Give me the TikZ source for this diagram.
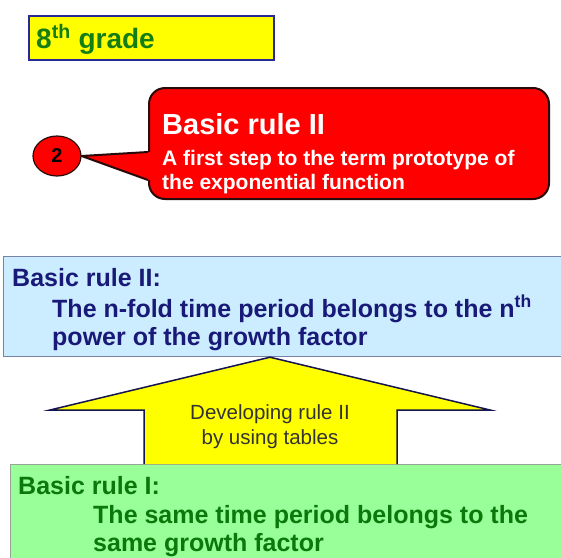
\documentclass[tikz,border=0pt]{standalone}
\usepackage{fontspec}
\setmainfont{Liberation Sans}
\usetikzlibrary{shapes.geometric, positioning}

\definecolor{gradeyellow}{RGB}{255,255,0}
\definecolor{gradeblue}{RGB}{40,40,150}
\definecolor{gradegreen}{RGB}{20,125,20}
\definecolor{calloutred}{RGB}{255,0,0}
\definecolor{calloutrim}{RGB}{40,10,10}
\definecolor{ruleblue}{RGB}{204,236,255}
\definecolor{ruleblueline}{RGB}{120,130,165}
\definecolor{ruleblueink}{RGB}{25,25,120}
\definecolor{rulegreen}{RGB}{153,255,153}
\definecolor{rulegreenline}{RGB}{150,165,150}
\definecolor{rulegreenink}{RGB}{10,120,10}
\definecolor{arrowline}{RGB}{20,20,80}

\begin{document}
\begin{tikzpicture}[
            x=1pt, y=-1pt,
            gradebox/.style={rectangle, draw=gradeblue, line width=2pt, fill=gradeyellow,
            anchor=north west, inner sep=0pt},
            gradetxt/.style={anchor=base west, inner sep=0pt, text=gradegreen,
            font=\fontsize{28}{32}\selectfont\bfseries},
            numnode/.style={ellipse, draw=calloutrim, line width=1.2pt, fill=calloutred,
            minimum width=48pt, minimum height=40pt, inner sep=0pt,
            font=\fontsize{20}{22}\selectfont\bfseries},
            callout/.style={rectangle, draw=calloutrim, line width=2pt, fill=calloutred,
            rounded corners=16pt, anchor=north west, inner sep=0pt},
            callhead/.style={anchor=base west, inner sep=0pt, text=white,
            font=\fontsize{29}{34}\selectfont\bfseries},
            calltxt/.style={anchor=base west, inner sep=0pt, text=white,
            font=\fontsize{21}{24}\selectfont\bfseries},
            rulebox/.style={rectangle, line width=1.2pt, anchor=north west, inner sep=0pt},
            ruletxt/.style={anchor=base west, inner sep=0pt,
            font=\fontsize{25}{28}\selectfont\bfseries},
            arrowtxt/.style={inner sep=0pt, align=center, text=black!80,
            font=\fontsize{20.5}{25}\selectfont}
        ]

\useasboundingbox (0,0) rectangle (561,557);

% ----- Kopfzeile -----
            \node[gradebox, minimum width=245pt, minimum height=44pt] (grade) at (28,15) {};
            \node[gradetxt] (gradelbl) at (36,48) {8\textsuperscript{th} grade};

% ----- Sprechblase -----
            \node[numnode] (num) at (57,156) {2};
            \node[callout, minimum width=400pt, minimum height=111pt] (call) at (148,87) {};
            \coordinate (tailtop) at ([yshift=-65pt]call.north west);
            \coordinate (tailbot) at ([yshift=-93pt]call.north west);
            \fill[calloutred] (num.east) -- (tailtop) -- ([xshift=3pt]tailtop)
                -- ([xshift=3pt]tailbot) -- (tailbot) -- cycle;
            \draw[calloutrim, line width=2pt, line join=round] (tailtop) -- (num.east) -- (tailbot);
            \node[callhead] (callttl) at (162,134) {Basic rule II};
            \node[calltxt] (call1) at (162,165) {A first step to the term prototype of};
            \node[calltxt] (call2) at (162,189) {the exponential function};

% ----- Grundregel II -----
            \node[rulebox, draw=ruleblueline, fill=ruleblue,
                minimum width=580pt, minimum height=100pt] (rule2) at (3,256) {};
            \node[ruletxt, text=ruleblueink] (r2a) at (12,286) {Basic rule II:};
            \node[ruletxt, text=ruleblueink] (r2b) at (52,317)
                {The n-fold time period belongs to the n\textsuperscript{th}};
            \node[ruletxt, text=ruleblueink] (r2c) at (52,345) {power of the growth factor};

% ----- Grundregel I -----
            \node[rulebox, draw=rulegreenline, fill=rulegreen,
                minimum width=580pt, minimum height=120pt] (rule1) at (10,464) {};
            \node[ruletxt, text=rulegreenink] (r1a) at (18,494) {Basic rule I:};
            \node[ruletxt, text=rulegreenink] (r1b) at (93,523)
                {The same time period belongs to the};
            \node[ruletxt, text=rulegreenink] (r1c) at (93,551) {same growth factor};

% ----- Blockpfeil -----
            \coordinate (tip) at (rule2.south -| 270,0);
            \coordinate (foot) at (rule1.north -| 270,0);
            \draw[arrowline, line width=1.5pt, fill=gradeyellow, line join=miter]
                ([xshift=-126pt]foot) -- ([xshift=-126pt]foot |- 0,410) -- (50,410)
                -- (tip) -- (490,410) -- ([xshift=127pt]foot |- 0,410)
                -- ([xshift=127pt]foot);
            \node[arrowtxt] (arrowlbl) at (270,427) {Developing rule II\\by using tables};

        \end{tikzpicture}
\end{document}
